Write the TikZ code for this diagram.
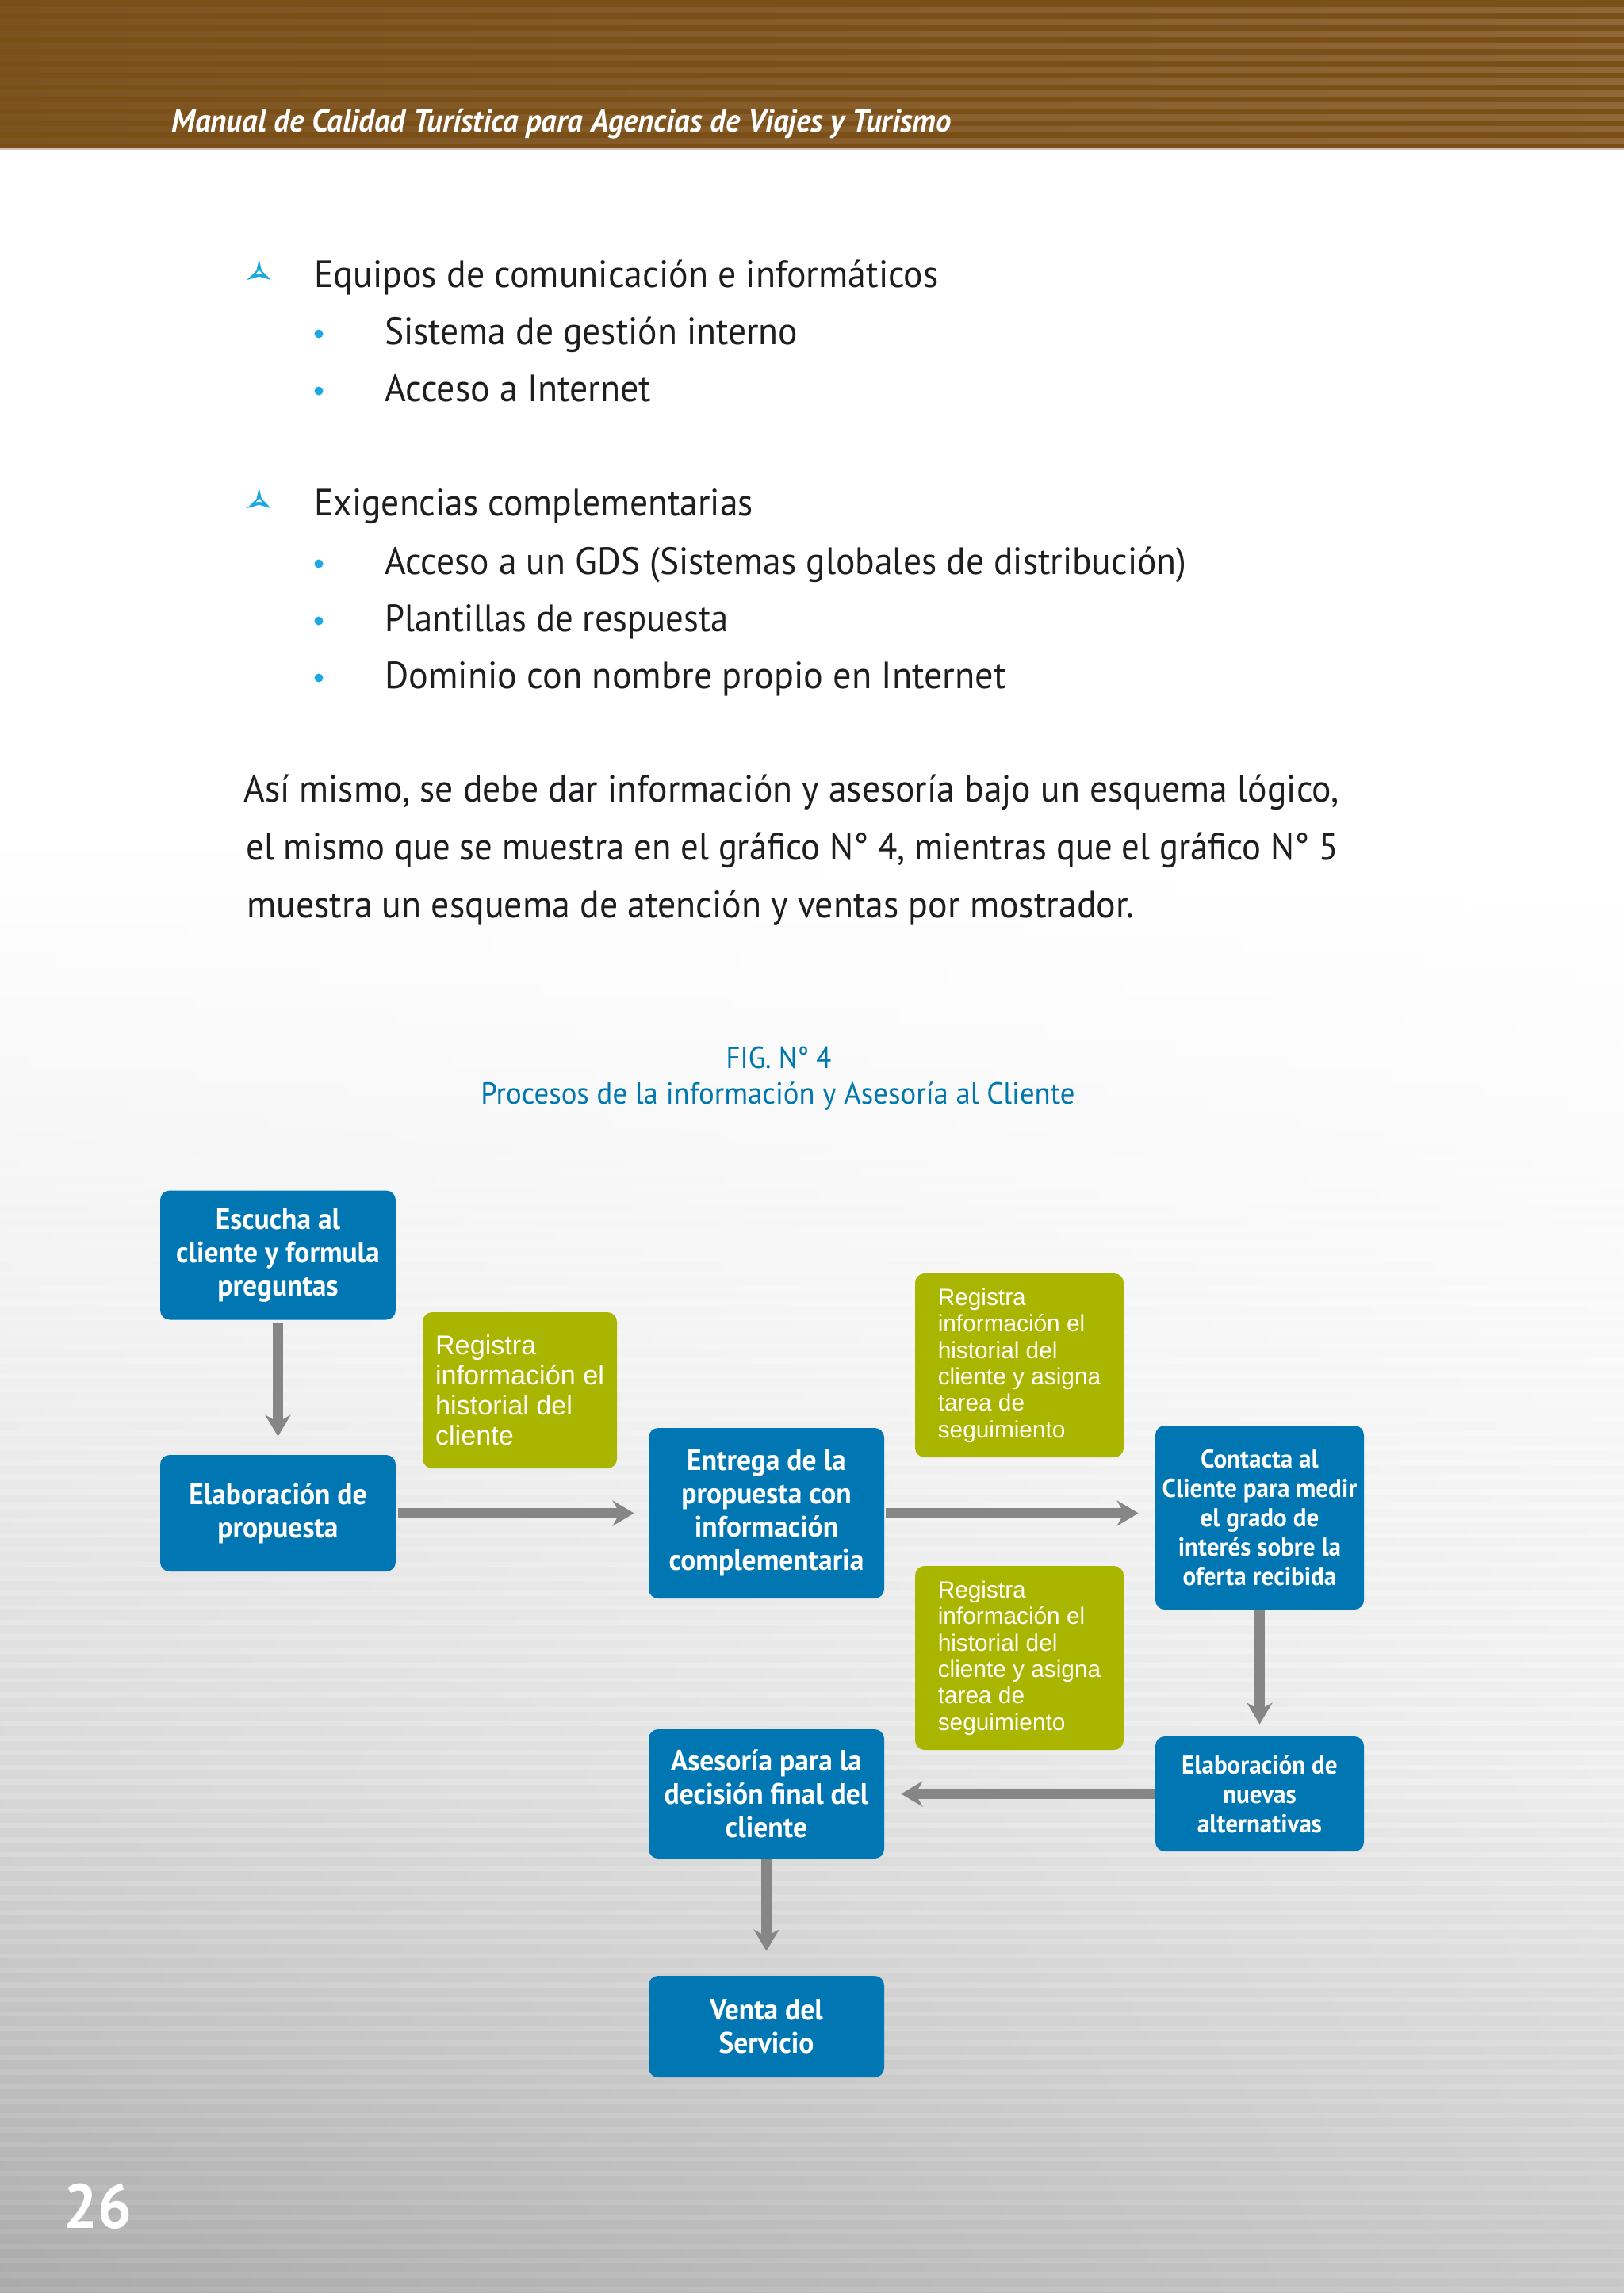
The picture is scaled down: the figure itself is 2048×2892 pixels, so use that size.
\documentclass[tikz,border=0pt]{standalone}
\usepackage{graphicx}
\usepackage{fontspec}
\setmainfont[FakeStretch=0.955]{PT Sans}
\newfontfamily\greenfont{Liberation Sans}
\usetikzlibrary{arrows.meta}
\definecolor{boxblue}{HTML}{0076B2}
\definecolor{boxgreen}{HTML}{AAB500}
\definecolor{arrowgrey}{HTML}{868686}
\definecolor{titleblue}{HTML}{0077AD}
\definecolor{bulletblue}{HTML}{1CA8E0}
\definecolor{bodyink}{HTML}{1E1E20}
\definecolor{hdark}{HTML}{7A5018}
\definecolor{hlightL}{HTML}{7D5420}
\definecolor{hlightM}{HTML}{835A26}
\definecolor{hlightR}{HTML}{906736}
\tikzset{
  bluebox/.style={rectangle,rounded corners=6pt,fill=boxblue,text=white,align=center,inner sep=0pt,font=\bfseries\fontsize{18.6}{21}\selectfont},
  bluesmall/.style={bluebox,font=\bfseries\fontsize{16.3}{18.5}\selectfont},
  greenbox/.style={rectangle,rounded corners=6pt,fill=boxgreen,text=white,align=left,inner sep=0pt,font=\greenfont\fontsize{14.9}{16.7}\selectfont},
  greenbig/.style={greenbox,font=\greenfont\fontsize{17.1}{19}\selectfont},
  flow/.style={draw=arrowgrey,line width=6.2pt,-{Stealth[length=13.5pt,width=16pt,inset=4.5pt]}},
  bodytext/.style={anchor=base west,inner sep=0pt,text=bodyink,font=\fontsize{24}{28}\selectfont},
  figtext/.style={anchor=base,inner sep=0pt,text=titleblue,font=\fontsize{19.25}{22}\selectfont}
}
\begin{document}
\begin{tikzpicture}[x=0.5pt,y=-0.5pt]
\useasboundingbox (0,0) rectangle (2048,2892);
% page background
\fill[white] (0,0) rectangle (2048,2892);
\foreach \k in {0,...,103}{
  \pgfmathsetmacro{\yk}{2887-18.3*\k}
  \pgfmathsetmacro{\Lv}{min(1,1-.00009*(\yk-1050),.925-.00018*(\yk-1800),.80-.00027*(\yk-2400))}
  \pgfmathsetmacro{\Rv}{min(1,1-.00004*(\yk-1100),.965-.00008*(\yk-1800),.89-.00023*(\yk-2400))}
  \pgfmathsetmacro{\dv}{max(0,min(.028,(\yk-1400)*.000028))}
  \pgfmathsetmacro{\Ll}{min(1,\Lv+\dv)}
  \pgfmathsetmacro{\Rl}{min(1,\Rv+.8*\dv)}
  \definecolor{cdl}{gray}{\Lv}\definecolor{cdr}{gray}{\Rv}
  \definecolor{cll}{gray}{\Ll}\definecolor{clr}{gray}{\Rl}
  \shade[left color=cdl,right color=cdr] (0,\yk+3) rectangle (2048,\yk+15.3);
  \shade[left color=cll,right color=clr] (0,\yk-3.5) rectangle (2048,\yk+3.5);
}
% header band
\fill[hdark] (0,0) rectangle (2048,187);
\foreach \k in {0,...,11}{
  \shade[left color=hlightL,middle color=hlightM,right color=hlightR] (0,9+15*\k) rectangle (2048,16+15*\k);
}
\fill[hlightR!40!white] (0,187) rectangle (2048,188.5);
\node[anchor=base west,inner sep=0pt,text=white,font=\bfseries\itshape\fontsize{20.3}{24}\selectfont] (header) at (216,166) {Manual de Calidad Turística para Agencias de Viajes y Turismo};
% star bullets
\foreach \by in {361,649}{
  \begin{scope}[shift={(326.7,\by-18)}]
    \fill[bulletblue] (0,-16) -- (3.2,-2) -- (15,10) -- (0,5.8) -- (-15,10) -- (-3.2,-2) -- cycle;
    \fill[white] (0,-2.5) -- (4,2.5) -- (0,1.8) -- (-4,2.5) -- cycle;
  \end{scope}
}
% round bullets
\foreach \by in {433,505,723,795,867}{
  \fill[bulletblue] (402,\by-12) circle[radius=5.5];
}
% body
\node[bodytext] (t1) at (396,362.5) {Equipos de comunicación e informáticos};
\node[bodytext] (t2) at (485,434.5) {\scalebox{.993}[1]{Sistema de gestión interno}};
\node[bodytext] (t3) at (485,506.5) {Acceso a Internet};
\node[bodytext] (t4) at (396,650.5) {\scalebox{.993}[1]{Exigencias complementarias}};
\node[bodytext] (t5) at (485,724) {\scalebox{.993}[1]{Acceso a un GDS (Sistemas globales de distribución)}};
\node[bodytext] (t6) at (485,796.5) {\scalebox{.975}[1]{Plantillas de respuesta}};
\node[bodytext] (t7) at (485,868.5) {\scalebox{1.007}[1]{Dominio con nombre propio en Internet}};
\node[bodytext] (p1) at (307,1011.5) {\scalebox{.995}[1]{Así mismo, se debe dar información y asesoría bajo un esquema lógico,}};
\node[bodytext] (p2) at (310,1084.5) {\scalebox{.974}[1]{el mismo que se muestra en el gráfico N° 4, mientras que el gráfico N° 5}};
\node[bodytext] (p3) at (311,1157.5) {muestra un esquema de atención y ventas por mostrador.};
% figure title
\node[figtext] (fig) at (982,1347) {\scalebox{.947}[1]{FIG. N° 4}};
\node[figtext] (figsub) at (981,1392) {Procesos de la información y Asesoría al Cliente};
% boxes
\node[bluebox,minimum width=148.5pt,minimum height=81.5pt] (escucha) at (350.5,1583) {Escucha al\\cliente y formula\\preguntas};
\node[bluebox,minimum width=148.5pt,minimum height=73.5pt] (elab) at (350.5,1908.5) {Elaboración de\\propuesta};
\node[greenbig,minimum width=122.5pt,minimum height=98.5pt] (g1) at (655.5,1753.5) {Registra\\información el\\historial del\\cliente};
\node[bluebox,minimum width=148.5pt,minimum height=107.5pt] (entrega) at (966.5,1908.5) {Entrega de la\\propuesta con\\información\\complementaria};
\node[greenbox,minimum width=131.5pt,minimum height=116pt] (g2) at (1285.5,1722) {Registra\\información el\\historial del\\cliente y asigna\\tarea de\\seguimiento};
\node[greenbox,minimum width=131.5pt,minimum height=116pt] (g3) at (1285.5,2091) {Registra\\información el\\historial del\\cliente y asigna\\tarea de\\seguimiento};
\node[bluesmall,minimum width=131.5pt,minimum height=116pt] (contacta) at (1588.5,1914) {Contacta al\\Cliente para medir\\el grado de\\interés sobre la\\oferta recibida};
\node[bluesmall,minimum width=131.5pt,minimum height=72.5pt] (nuevas) at (1588.5,2262.5) {Elaboración de\\nuevas\\alternativas};
\node[bluebox,minimum width=148.5pt,minimum height=81.5pt] (asesoria) at (966.5,2262.5) {Asesoría para la\\decisión final del\\cliente};
\node[bluebox,minimum width=148.5pt,minimum height=64pt] (venta) at (966.5,2556) {Venta del\\Servicio};
% connectors
\draw[flow,shorten <=1.5pt,shorten >=11.5pt] (escucha.south) -- (elab.north);
\draw[flow,shorten <=1.5pt,shorten >=9pt] (elab.east) -- (entrega.west);
\draw[flow,shorten <=1pt,shorten >=10.5pt] (entrega.east) -- (entrega.east -| contacta.west);
\draw[flow,shorten >=7.5pt] (contacta.south) -- (nuevas.north);
\draw[flow,shorten >=10.5pt] (nuevas.west) -- (asesoria.east);
\draw[flow,shorten >=15.5pt] (asesoria.south) -- (venta.north);
% page number
\node[anchor=base west,inner sep=0pt,text=white,font=\bfseries\fontsize{39.5}{42}\selectfont] (page) at (80,2810) {26};
\end{tikzpicture}
\end{document}
